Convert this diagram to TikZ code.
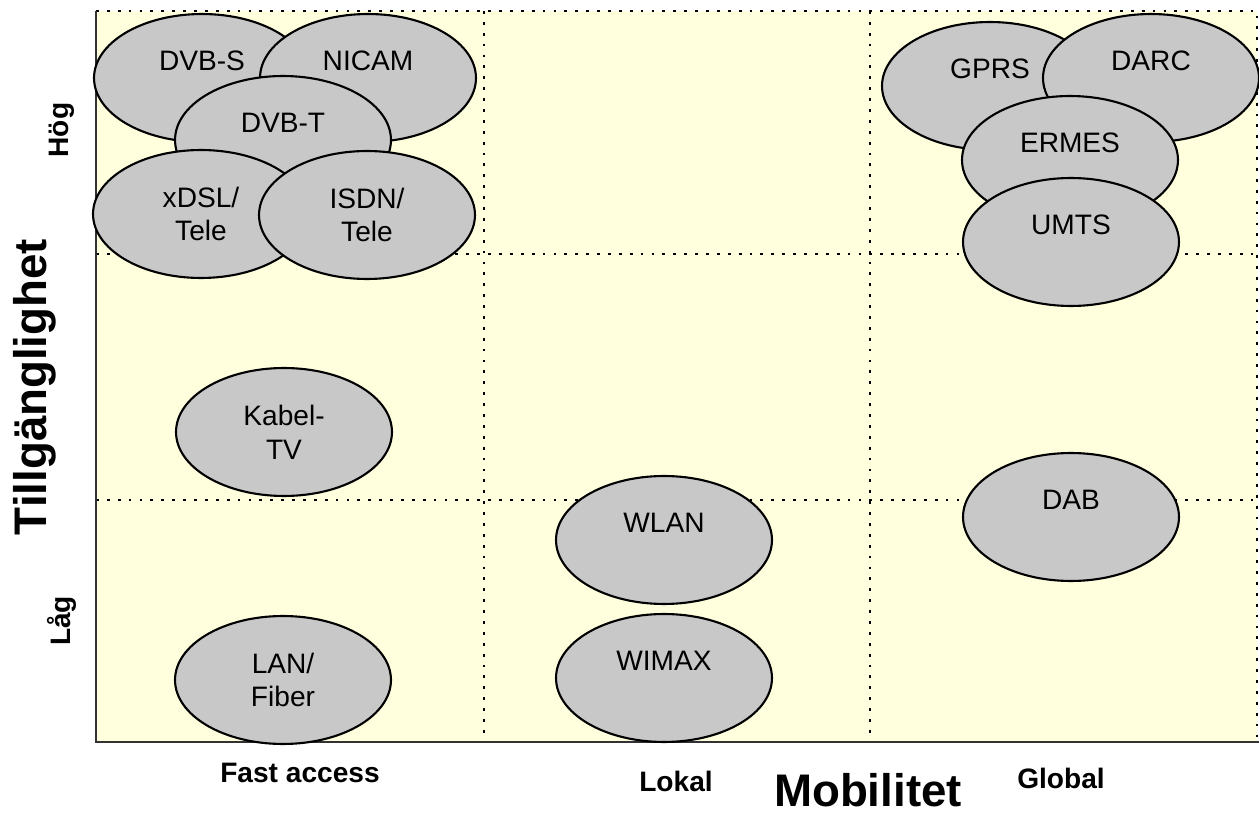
\documentclass[tikz,border=0pt]{standalone}
\usepackage{fontspec}
\setmainfont{Liberation Sans}
\usetikzlibrary{shapes.geometric}

\definecolor{paper}{RGB}{255,255,221}
\definecolor{ovalgray}{RGB}{200,200,200}
\definecolor{axisgray}{RGB}{50,50,50}

\begin{document}
\begin{tikzpicture}[x=0.02cm, y=-0.02cm,
    tech/.style={ellipse, draw=black, line width=1.2pt, fill=ovalgray,
      minimum width=4.32cm, minimum height=2.56cm, inner sep=0pt,
      align=center, font=\fontsize{16}{19.2}\selectfont},
    toptext/.style={text height=11.5pt, text depth=19.5pt},
    gridline/.style={line width=0.9pt, dash pattern=on 1.6pt off 4.6pt},
    axislabel/.style={font=\bfseries\fontsize{16}{19.2}\selectfont},
    axistitle/.style={inner sep=0pt, font=\bfseries\fontsize{26}{31}\selectfont}]
    \useasboundingbox (0,0) rectangle (1259,817);

    % Background and grid
    \fill [paper] (96,11) rectangle (1257,742);
    \draw [gridline] (96,11) -- (1257,11) -- (1257,742);
    \draw [gridline] (484,11) -- (484,742);
    \draw [gridline] (870,11) -- (870,742);
    \draw [gridline] (96,254) -- (1257,254);
    \draw [gridline] (96,500) -- (1257,500);

    % Axes
    \draw [axisgray, line width=1.3pt] (96,11) -- (96,742) -- (1259,742);

    % Fast access
    \node [tech, toptext] (dvbs) at (202,78) {DVB-S};
    \node [tech, toptext] (nicam) at (368,78) {NICAM};
    \node [tech, toptext] (dvbt) at (283,140) {DVB-T};
    \node [tech] (xdsl) at (201,214) {xDSL/\\Tele};
    \node [tech] (isdn) at (367,215) {ISDN/\\Tele};
    \node [tech] (kabeltv) at (284,432) {Kabel-\\TV};
    \node [tech] (lanfiber) at (283,680) {LAN/\\Fiber};

    % Lokal
    \node [tech, toptext] (wlan) at (664,540) {WLAN};
    \node [tech, toptext] (wimax) at (664,678) {WIMAX};

    % Global
    \node [tech, toptext] (gprs) at (990,86) {GPRS};
    \node [tech, toptext] (darc) at (1151,78) {DARC};
    \node [tech, toptext] (ermes) at (1070,160) {ERMES};
    \node [tech, toptext] (umts) at (1071,242) {UMTS};
    \node [tech, toptext] (dab) at (1071,517) {DAB};

    % Axis labels
    \node [axislabel, rotate=90] (hog) at (62,130) {Hög};
    \node [axislabel, rotate=90] (lag) at (62,621) {Låg};
    \node [axistitle, rotate=90] (tillg) at (35,387) {Tillgänglighet};
    \node [axislabel] (fastaccess) at (300,773) {Fast access};
    \node [axislabel] (lokal) at (676,781) {Lokal};
    \node [axislabel] (global) at (1061,778) {Global};
    \node [axistitle] (mobilitet) at (868,790) {Mobilitet};
\end{tikzpicture}
\end{document}
